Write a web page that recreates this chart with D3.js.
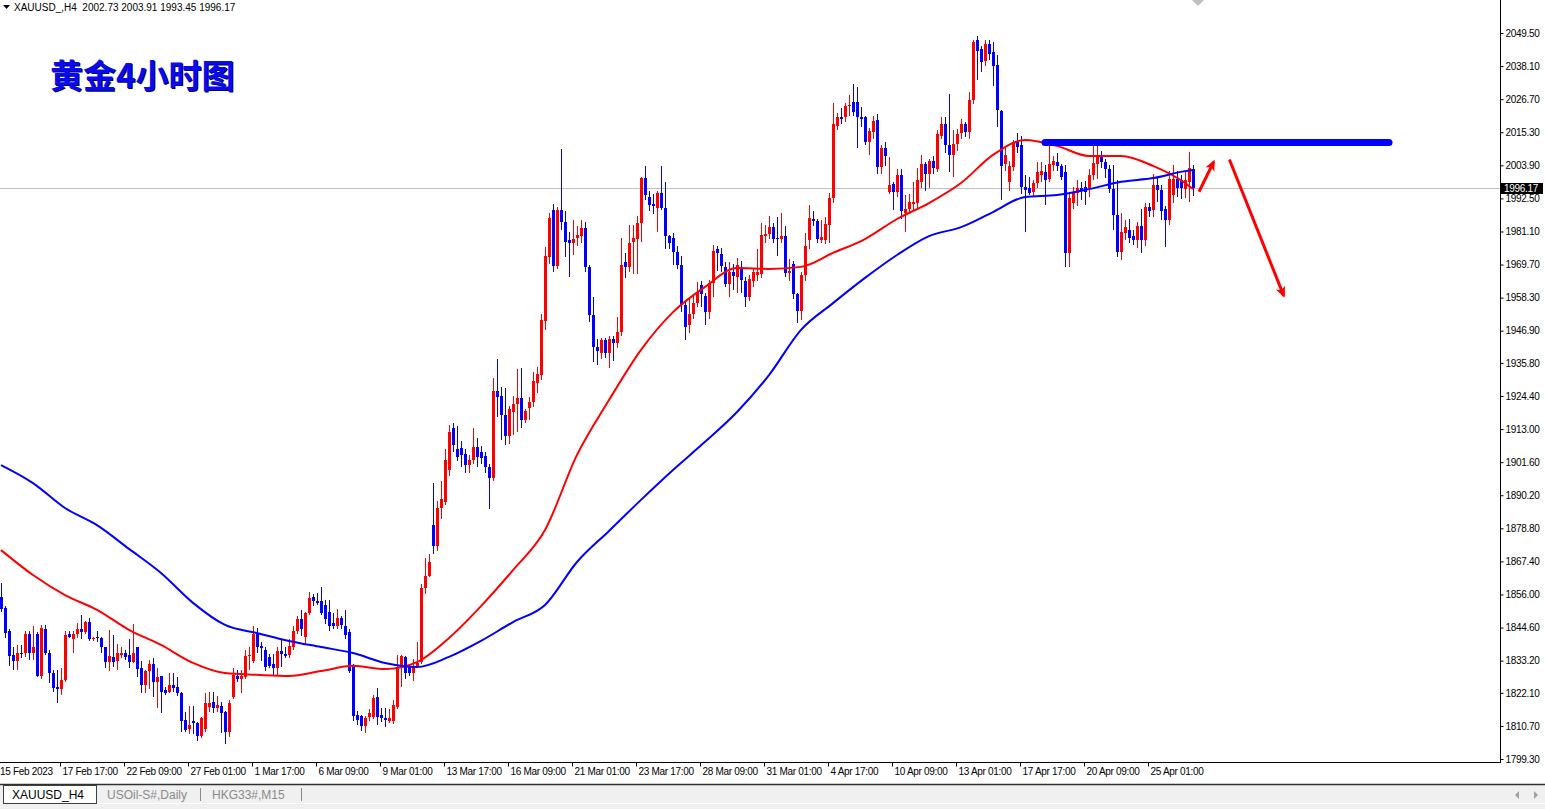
<!DOCTYPE html>
<html>
<head>
<meta charset="utf-8">
<script src="https://cdn.jsdelivr.net/npm/d3@7"></script>
<style>
html, body { margin: 0; padding: 0; background: #fff; overflow: hidden; }
svg { display: block; }
.font { font-family: "Liberation Sans", Arial, sans-serif; }
.axis text { font-size: 10px; fill: #000; letter-spacing: -0.3px; }
.axis line { stroke: #000; }
.axis path { display: none; }
</style>
</head>
<body>
<svg id="chart" width="1545" height="809"></svg>
<script>
const SVG_WIDTH = 1545;
const SVG_HEIGHT = 809;
const PLOT_RIGHT = 1500;
const PLOT_BOTTOM = 762;
const BAR_STEP = 4;
const BULL_COLOR = "#ff0000";
const BEAR_COLOR = "#0000ff";

const SYMBOL_TXT = "XAUUSD_,H4  2002.73 2003.91 1993.45 1996.17";
const TITLE_TXT = "黄金4小时图";
const TAB_LIST = ["XAUUSD_H4", "USOil-S#,Daily", "HKG33#,M15"];

// H4 bars, oldest first: [open, high, low, close]
const candles = [
    [1855, 1860, 1850, 1851], [1851.5, 1852, 1841, 1842.8], [1843.3, 1844, 1831.4, 1834.7], [1835, 1838, 1830, 1833],
    [1833, 1838.5, 1830, 1836], [1836, 1838.5, 1834, 1835.5], [1836, 1843.5, 1834.5, 1842.5], [1842.5, 1843.5, 1833.5, 1836],
    [1836, 1845, 1833.5, 1838], [1842.5, 1843, 1827.5, 1828], [1828, 1845.5, 1827, 1844.3], [1844, 1845.5, 1835, 1835.8],
    [1836, 1837, 1825.5, 1829], [1829, 1830, 1822.3, 1823.7], [1824, 1830, 1818.5, 1823.5], [1823.5, 1830.5, 1821.5, 1826.5],
    [1826.5, 1843.5, 1826, 1842.2], [1842.5, 1843.5, 1841, 1841.5], [1840.5, 1843.5, 1836, 1842.5], [1842.5, 1846, 1841, 1844],
    [1844, 1849, 1840.5, 1843.2], [1843, 1847, 1842.5, 1846.5], [1846.5, 1848, 1840, 1840.5], [1840.5, 1841.5, 1840, 1841],
    [1841.5, 1843.5, 1839.5, 1841], [1841, 1841.5, 1836, 1837.8], [1838, 1838, 1830.5, 1832.7], [1832.7, 1843.8, 1829.6, 1834.8],
    [1834.5, 1842, 1831, 1832.7], [1833, 1839, 1830, 1835.8], [1835.3, 1838, 1834, 1836], [1836, 1837, 1833.5, 1834.5],
    [1835, 1840.5, 1830.5, 1832.7], [1832.7, 1845.8, 1832.5, 1835.8], [1837.8, 1838, 1827.5, 1830.3], [1830.5, 1833, 1822, 1824.8],
    [1824.8, 1830, 1822, 1829.6], [1829.6, 1833.5, 1823.3, 1832], [1832, 1834, 1820.5, 1826], [1826, 1830.5, 1817, 1827.7],
    [1828, 1828, 1815.2, 1822.3], [1823, 1824, 1821.5, 1822], [1822.3, 1829, 1822, 1824.8], [1824.8, 1829, 1822.3, 1823.8],
    [1824, 1827.5, 1821, 1822], [1822, 1822.5, 1808.7, 1812.4], [1812.7, 1815.5, 1808.7, 1809.3], [1809.5, 1817.5, 1808, 1811],
    [1812.4, 1817.5, 1808, 1811.7], [1811.7, 1812, 1805.5, 1807.3], [1807.3, 1813.7, 1806.5, 1813.4], [1809.8, 1822, 1808.5, 1818.6],
    [1817.2, 1822.4, 1815.5, 1818.6], [1819, 1822.5, 1815, 1817], [1817, 1821, 1815.5, 1818], [1817.5, 1819, 1808.3, 1815.2],
    [1815.5, 1816, 1804.5, 1808.5], [1808.5, 1819.5, 1807, 1818.6], [1820.5, 1830.5, 1820, 1828.2], [1828, 1830, 1826, 1827],
    [1827, 1830, 1822, 1828], [1827.5, 1836.8, 1827, 1834.8], [1834.7, 1838, 1830, 1835], [1833, 1845, 1832.5, 1842.5],
    [1842.5, 1844.3, 1836, 1837.8], [1838.3, 1839.5, 1833, 1837.5], [1836.8, 1838, 1829.5, 1831], [1834.5, 1835.5, 1830.5, 1831.5],
    [1832, 1835.5, 1828, 1830.5], [1830.7, 1838, 1828, 1836.5], [1836.5, 1840.5, 1831, 1835.5], [1835.5, 1838, 1834, 1834.8],
    [1835.3, 1840.5, 1834, 1838.3], [1838, 1845, 1837, 1843.3], [1843.5, 1848.5, 1842.5, 1847.4], [1847.5, 1850.5, 1841.7, 1844],
    [1841.5, 1850, 1838.9, 1849.7], [1849.7, 1856.8, 1849, 1854.8], [1855, 1856, 1852, 1853.8], [1853.8, 1856.5, 1852.5, 1853],
    [1853.6, 1858.5, 1849, 1849.7], [1852.5, 1854, 1845.8, 1847.4], [1850, 1854, 1843.5, 1845.3], [1846.3, 1849.5, 1844, 1845.3],
    [1845.3, 1851, 1844, 1848], [1848, 1848.5, 1844, 1845.5], [1845.3, 1850.5, 1840.5, 1841.9], [1843, 1844, 1828.8, 1829.6],
    [1831.4, 1832, 1812.4, 1814.1], [1814.4, 1815.8, 1811, 1812.7], [1814, 1814.5, 1809, 1810.7], [1810.7, 1814.2, 1808.3, 1813.6],
    [1813.8, 1816.5, 1812.5, 1815], [1813.8, 1821.5, 1813, 1820.3], [1820.8, 1823.7, 1811, 1813.8], [1814.5, 1817, 1812, 1813.4],
    [1813.6, 1817, 1810.3, 1812.7], [1812.4, 1816.4, 1811.7, 1813.6], [1812.4, 1819.8, 1811.5, 1817.9], [1817.2, 1835, 1816.5, 1831],
    [1831.4, 1835.3, 1824, 1834.8], [1834.5, 1834.7, 1827, 1829], [1831.2, 1832, 1827.8, 1829], [1829, 1833.8, 1826.3, 1831.2],
    [1831, 1839.5, 1830.5, 1832.4], [1832.7, 1859.5, 1832, 1858.1], [1858.1, 1868.4, 1856, 1862.5], [1862.5, 1869.8, 1862, 1867.1],
    [1879.8, 1894.4, 1870, 1872.6], [1872.6, 1888.2, 1871, 1885.8], [1885.8, 1895, 1882, 1889], [1888, 1906, 1887, 1902.5],
    [1899, 1914.5, 1897, 1912], [1913.3, 1915, 1905, 1907.5], [1906, 1914, 1902, 1903.5], [1906.5, 1909, 1900, 1904],
    [1904.5, 1906, 1898, 1900.5], [1900.5, 1904, 1898, 1902.5], [1902.5, 1913.5, 1901, 1906.8], [1906.8, 1910, 1900, 1903.5],
    [1905, 1907, 1901, 1903], [1903.7, 1905, 1898, 1900], [1900, 1901, 1885.5, 1896.2], [1896.1, 1930.6, 1895, 1926],
    [1926, 1937.2, 1917.2, 1924], [1924.4, 1927.5, 1909.2, 1917.9], [1917.9, 1927, 1907.5, 1910.6], [1910.6, 1921, 1908, 1919.9],
    [1919, 1924.5, 1911, 1921.5], [1921.7, 1933.7, 1912, 1923.7], [1923.7, 1934, 1913.4, 1916.2], [1916.2, 1920, 1915, 1919.2],
    [1920.2, 1924, 1916, 1922.2], [1922.3, 1932.7, 1920.5, 1929.6], [1928.8, 1934.5, 1925.6, 1932], [1931.6, 1952.6, 1930, 1950.6],
    [1950.4, 1975.7, 1947, 1972.5], [1972.3, 1987.4, 1970, 1985.7], [1988.5, 1990.6, 1967, 1969.2], [1969.2, 1989.5, 1968, 1988.5],
    [1988.5, 2009.5, 1981.6, 1984.3], [1984.3, 1988, 1972.3, 1977.5], [1978.1, 1980.9, 1965.5, 1977.1], [1977.1, 1985, 1973, 1978.4],
    [1978.8, 1983, 1976, 1980], [1979.5, 1985, 1977, 1982.3], [1982.3, 1984.5, 1967, 1968.8], [1968.8, 1969.5, 1950, 1952.3],
    [1952.3, 1958.5, 1936.1, 1941.3], [1941.3, 1944, 1935, 1939.9], [1939.2, 1944.5, 1937, 1943.7], [1943.7, 1944.5, 1937.5, 1939.2],
    [1939.2, 1945, 1934, 1943.9], [1944, 1945, 1936.5, 1942.6], [1942.6, 1951.6, 1941, 1946.4], [1946.4, 1978.9, 1945, 1969.5],
    [1970.5, 1973.7, 1965, 1968.8], [1968.8, 1983.5, 1967, 1977.1], [1977.5, 1983.5, 1966.4, 1978.7], [1978.4, 1986.5, 1966.5, 1984],
    [1984, 2000, 1977.4, 1999.5], [1999.5, 2003.8, 1992, 1993.7], [1993, 1995, 1988, 1990.1], [1990.5, 1994, 1987, 1990],
    [1989.3, 1995, 1981, 1994.2], [1994.2, 2003.5, 1988.5, 1989.3], [1989.3, 1998.1, 1975.1, 1979.4], [1979.4, 1980, 1975, 1977.1],
    [1978.8, 1980.5, 1969.5, 1974], [1974, 1976, 1968, 1969.5], [1969.7, 1972.5, 1953.5, 1955.6], [1955.6, 1957, 1943.7, 1948.3],
    [1949, 1958.5, 1946, 1952.6], [1952.6, 1959, 1951, 1956.3], [1956.3, 1963.7, 1955, 1960.4], [1962.6, 1964, 1955, 1959.7],
    [1959, 1960, 1948.9, 1953.3], [1953.3, 1964.5, 1951, 1963.3], [1963.3, 1976.5, 1958.5, 1974.3], [1975.1, 1976, 1967.5, 1973.7],
    [1973.3, 1975.5, 1967, 1969.2], [1968.8, 1970.5, 1962, 1963], [1963, 1970.5, 1958.5, 1967.1], [1967.1, 1970, 1961, 1965.8],
    [1965.3, 1972, 1960, 1969.5], [1968.8, 1971, 1960, 1964.3], [1964, 1965.5, 1955, 1958.6], [1958.6, 1966, 1957, 1964.7],
    [1964, 1968.5, 1962, 1967.1], [1966, 1975, 1964, 1967.2], [1966.4, 1983.9, 1965, 1979.8], [1979.5, 1983.5, 1977, 1980.2],
    [1980.2, 1986.5, 1978.5, 1982.6], [1982.6, 1984, 1977, 1978.4], [1979, 1986, 1972.6, 1978.4], [1978.4, 1987.5, 1977, 1979.5],
    [1979.5, 1983, 1965.5, 1966.8], [1966.8, 1971.5, 1964, 1967.5], [1970, 1971, 1958, 1959.7], [1959.7, 1960, 1949.5, 1953.6],
    [1953.6, 1967, 1950.5, 1966.1], [1966.1, 1980.5, 1964, 1976.1], [1978, 1990.3, 1975, 1985.6], [1985.3, 1988, 1983, 1984.6],
    [1984.6, 1985.5, 1977, 1978.4], [1978.3, 1985, 1977, 1979.2], [1978.3, 1986, 1976.8, 1983.6], [1983.2, 1994.5, 1977, 1992.6],
    [1992.6, 2025.4, 1991, 2018.1], [2017.5, 2022, 2016, 2020.4], [2020.4, 2023.6, 2018, 2020], [2020.4, 2025.5, 2019, 2024.3],
    [2024.3, 2028.1, 2021, 2024.7], [2025.7, 2031.9, 2021, 2022.3], [2025.7, 2030.9, 2009.8, 2020.5], [2020.4, 2024, 2017, 2019.9],
    [2020.5, 2021, 2011, 2012], [2012, 2016.7, 2007.6, 2015.7], [2015.5, 2021, 2013, 2019.2], [2019.5, 2021.7, 2000.9, 2003.2],
    [2003.2, 2010.8, 2001, 2009.8], [2009.8, 2012, 2003.7, 2007], [1994.7, 2006.6, 1994, 1997.1], [1997.6, 1998, 1988.5, 1994.6],
    [1994.6, 2002.7, 1993, 2000.7], [2000.7, 2002.5, 1985.5, 1988.2], [1987.5, 1993.5, 1981, 1988.9], [1989, 1994, 1987, 1991.4],
    [1990.7, 1998, 1988, 1991.3], [1991, 2003, 1989, 1998.8], [1998.1, 2007.3, 1996, 2004.4], [2004.4, 2005, 1995, 2001],
    [2001, 2006, 1996, 2005.5], [2005.5, 2007, 2001, 2003], [2002.5, 2016, 2001.5, 2014.7], [2014, 2020.5, 2013, 2018.3],
    [2018.3, 2020.5, 2008.2, 2011], [2011, 2028.5, 2001.5, 2007.6], [2007.6, 2016, 2000, 2011.3], [2011.3, 2016.5, 2009, 2014.7],
    [2015, 2020, 2013, 2018], [2018, 2019, 2013.5, 2015.5], [2015.5, 2029.2, 2013, 2026.4], [2026.4, 2047, 2025, 2046.4],
    [2047, 2048.5, 2033.3, 2043.3], [2044, 2045, 2036.1, 2039.5], [2039.8, 2047, 2038, 2045.6], [2045.6, 2047.1, 2040.2, 2042.3],
    [2043, 2046.5, 2031.2, 2038.2], [2038.5, 2041.9, 2017.1, 2023], [2022.7, 2023, 1992, 2003.5], [2004.3, 2010, 2002, 2007.5],
    [1998.2, 2005.5, 1995, 2003.5], [2003.2, 2012.5, 2002, 2011.9], [2011.9, 2015, 2008, 2010.2], [2011, 2014, 1994, 1996.5],
    [1996.5, 2000.5, 1980.9, 1995.5], [1996.2, 2000, 1993.5, 1994.4], [1994.8, 1999, 1993, 1997.9], [1997.9, 2005, 1996, 2001.5],
    [2000.7, 2005.2, 1998, 2002.1], [2001.5, 2004, 1990.3, 1999], [1999.3, 2011.1, 1998, 2004.4], [2004, 2007, 2002, 2005.4],
    [2005.2, 2008.3, 2002, 2003.5], [2003.5, 2004.5, 1999, 2000], [2001.5, 2004, 1969, 1973.7], [1973.7, 1994, 1968.8, 1992.6],
    [1991, 1996.5, 1989, 1994.5], [1994.4, 1999, 1990, 1996.2], [1996.2, 1998, 1992, 1995.2], [1996.5, 1998.5, 1990.3, 1994.6],
    [1996.2, 2002.5, 1993, 2000.4], [2000.4, 2011.1, 1999, 2004.8], [2004.2, 2011, 1999.2, 2007.6], [2007.6, 2009, 2003, 2005.2],
    [2005.2, 2006, 1999.5, 2002.5], [2002.5, 2004, 1994.5, 1995.6], [1995.6, 2004, 1981.6, 1986.9], [1986.9, 1999, 1972.3, 1973.9],
    [1973.9, 1987.5, 1971.2, 1981], [1980.5, 1985, 1978, 1982.6], [1981.5, 1985.4, 1977, 1979], [1979.5, 1981.5, 1976.4, 1978.1],
    [1978.1, 1984.5, 1975.5, 1983], [1983, 1989, 1973.7, 1978.1], [1978.1, 1991, 1976, 1989.6], [1989.6, 1991, 1986, 1988.2],
    [1988.5, 2000.9, 1986, 1997.2], [1997.2, 2000, 1991.2, 1995.5], [1995.5, 1997, 1985, 1988], [1988.8, 1990, 1975.8, 1985],
    [1985, 2002, 1983.3, 1999.2], [1993.5, 2003.9, 1991, 1999.2], [1999.2, 2002, 1993, 1996.2], [1998.8, 2000.5, 1992.2, 1996.2],
    [1995.6, 2001.5, 1992.5, 1998.8], [1998.2, 2008.5, 1991.2, 2003], [2002.73, 2003.91, 1993.45, 1996.17]
];

const PRICE_TICKS = [2049.50, 2038.10, 2026.70, 2015.30, 2003.90, 1992.50, 1981.10, 1969.70, 1958.30, 1946.90,
    1935.80, 1924.40, 1913.00, 1901.60, 1890.20, 1878.80, 1867.40, 1856.00, 1844.60, 1833.20, 1822.10, 1810.70, 1799.30];
const LAST_PRICE = 1996.17;

const DATE_FIRST_LABEL = "15 Feb 2023";
const DATE_TICK_BARS = [15, 31, 47, 63, 79, 95, 111, 127, 143, 159, 175, 191, 207, 223, 239, 255, 271, 287];
const DATE_LABELS = ["17 Feb 17:00", "22 Feb 09:00", "27 Feb 01:00", "1 Mar 17:00", "6 Mar 09:00", "9 Mar 01:00",
    "13 Mar 17:00", "16 Mar 09:00", "21 Mar 01:00", "23 Mar 17:00", "28 Mar 09:00", "31 Mar 01:00", "4 Apr 17:00",
    "10 Apr 09:00", "13 Apr 01:00", "17 Apr 17:00", "20 Apr 09:00", "25 Apr 01:00"];

// moving averages every 8 bars
const MA_BARS = [0, 8, 16, 24, 32, 40, 48, 56, 64, 72, 80, 88, 96, 104, 112, 120, 128, 136, 144, 152,
    160, 168, 176, 184, 192, 200, 208, 216, 224, 232, 240, 248, 256, 264, 272, 280, 288, 296, 298];
const RED_MA = [1871.3, 1862.7, 1855.8, 1850.7, 1843.8, 1838.6, 1832.4, 1828.9, 1828.3, 1827.9,
    1829.6, 1831.4, 1830.3, 1832.7, 1841.0, 1852.0, 1864.4, 1878.2, 1904.1, 1923.0,
    1940.3, 1953.3, 1962.0, 1968.5, 1968.2, 1968.9, 1973.7, 1978.5, 1985.4, 1990.9,
    1997.8, 2007.5, 2012.6, 2010.6, 2007.1, 2007.1, 2003.7, 1997.8, 1995.7];
const BLUE_MA = [1900.6, 1894.4, 1885.8, 1879.9, 1871.7, 1863.4, 1853.1, 1845.5, 1842.7, 1840.0,
    1837.9, 1835.8, 1832.4, 1831.0, 1834.5, 1840.0, 1846.5, 1852.4, 1867.2, 1877.9,
    1888.6, 1898.9, 1908.6, 1918.9, 1931.6, 1947.2, 1956.4, 1965.1, 1973.0, 1979.5,
    1982.6, 1987.8, 1993.0, 1993.7, 1995.7, 1998.2, 1999.5, 2001.9, 2002.3];

const LEVEL_PRICE = 2011.8;
const LEVEL_BARS = [261, 347];
const ARROWS = [
    {from: [299.5, 1994.8], to: [303.2, 2005.2]},
    {from: [307.1, 2005.9], to: [320.7, 1958.9]}
];

var svg = d3.select("#chart");

var xScale = d3.scaleLinear()
    .domain([0, candles.length - 1])
    .range([1, 1 + BAR_STEP * (candles.length - 1)]);
var yScale = d3.scaleLinear()
    .domain([1799.3, 2049.5])
    .range([759, 33]);

svg.append("rect")
    .attr("width", SVG_WIDTH)
    .attr("height", SVG_HEIGHT)
    .attr("fill", "#ffffff");

// last price line behind the bars
svg.append("line")
    .attr("x1", 0).attr("x2", PLOT_RIGHT)
    .attr("y1", Math.round(yScale(LAST_PRICE)) + 0.5)
    .attr("y2", Math.round(yScale(LAST_PRICE)) + 0.5)
    .attr("stroke", "#c0c0c0")
    .attr("stroke-width", 1);

var barGroup = svg.append("g")
    .attr("shape-rendering", "crispEdges");
var bars = barGroup.selectAll("g.bar")
    .data(candles)
    .enter()
    .append("g")
    .classed("bar", true);
bars.append("line")
    .attr("x1", function(d, i) { return Math.round(xScale(i)) + 0.5; })
    .attr("x2", function(d, i) { return Math.round(xScale(i)) + 0.5; })
    .attr("y1", function(d) { return yScale(d[1]); })
    .attr("y2", function(d) { return yScale(d[2]); })
    .attr("stroke", function(d) { return d[3] >= d[0] ? BULL_COLOR : BEAR_COLOR; })
    .attr("stroke-width", 1);
bars.append("rect")
    .attr("x", function(d, i) { return Math.round(xScale(i)) - 1; })
    .attr("width", 3)
    .attr("y", function(d) { return yScale(Math.max(d[0], d[3])); })
    .attr("height", function(d) {
        return Math.max(1, Math.abs(yScale(d[0]) - yScale(d[3])));
    })
    .attr("fill", function(d) { return d[3] >= d[0] ? BULL_COLOR : BEAR_COLOR; });

var maLine = d3.line()
    .x(function(d) { return xScale(d[0]); })
    .y(function(d) { return yScale(d[1]); })
    .curve(d3.curveMonotoneX);
svg.append("path")
    .datum(MA_BARS.map(function(b, i) { return [b, RED_MA[i]]; }))
    .attr("d", maLine)
    .attr("fill", "none")
    .attr("stroke", "#ff0000")
    .attr("stroke-width", 2);
svg.append("path")
    .datum(MA_BARS.map(function(b, i) { return [b, BLUE_MA[i]]; }))
    .attr("d", maLine)
    .attr("fill", "none")
    .attr("stroke", "#0000ff")
    .attr("stroke-width", 2);

// resistance line and arrows
svg.append("line")
    .attr("x1", xScale(LEVEL_BARS[0])).attr("x2", xScale(LEVEL_BARS[1]))
    .attr("y1", yScale(LEVEL_PRICE)).attr("y2", yScale(LEVEL_PRICE))
    .attr("stroke", "#0000ff")
    .attr("stroke-width", 7)
    .attr("stroke-linecap", "round");

svg.append("defs").append("marker")
    .attr("id", "arrowHead")
    .attr("markerUnits", "userSpaceOnUse")
    .attr("markerWidth", 12).attr("markerHeight", 12)
    .attr("refX", 9).attr("refY", 6)
    .attr("orient", "auto")
    .append("path")
    .attr("d", "M0,1 L11,6 L0,11 L3,6 Z")
    .attr("fill", "#ff0000");
svg.selectAll("line.arrow")
    .data(ARROWS)
    .enter()
    .append("line")
    .classed("arrow", true)
    .attr("x1", function(d) { return xScale(d.from[0]); })
    .attr("y1", function(d) { return yScale(d.from[1]); })
    .attr("x2", function(d) { return xScale(d.to[0]); })
    .attr("y2", function(d) { return yScale(d.to[1]); })
    .attr("stroke", "#ff0000")
    .attr("stroke-width", 3)
    .attr("marker-end", "url(#arrowHead)");

// chart shift marker
svg.append("path")
    .attr("d", "M1192,0 L1204,0 L1198,6 Z")
    .attr("fill", "#c0c0c0");

// frame
svg.append("line")
    .attr("x1", PLOT_RIGHT + 0.5).attr("x2", PLOT_RIGHT + 0.5)
    .attr("y1", 0).attr("y2", PLOT_BOTTOM + 1)
    .attr("stroke", "#000");
svg.append("line")
    .attr("x1", 0).attr("x2", PLOT_RIGHT + 1)
    .attr("y1", PLOT_BOTTOM + 0.5).attr("y2", PLOT_BOTTOM + 0.5)
    .attr("stroke", "#000");

var yAxis = d3.axisRight(yScale)
    .tickValues(PRICE_TICKS)
    .tickFormat(d3.format(".2f"))
    .tickSize(3)
    .tickPadding(2);
svg.append("g")
    .classed("axis font", true)
    .attr("transform", "translate(" + (PLOT_RIGHT + 0.5) + ",0)")
    .call(yAxis);

var lastY = Math.round(yScale(LAST_PRICE));
svg.append("rect")
    .attr("x", PLOT_RIGHT + 1).attr("y", lastY - 5)
    .attr("width", 42).attr("height", 11)
    .attr("fill", "#000");
svg.append("text")
    .attr("x", PLOT_RIGHT + 4).attr("y", lastY + 0.5)
    .attr("dominant-baseline", "central")
    .attr("fill", "#fff")
    .style("font-size", "10px")
    .style("letter-spacing", "-0.3px")
    .classed("font", true)
    .text(d3.format(".2f")(LAST_PRICE));

var xAxis = d3.axisBottom(xScale)
    .tickValues(DATE_TICK_BARS)
    .tickFormat(function(d, i) { return DATE_LABELS[i]; })
    .tickSize(4);
var xAxisGroup = svg.append("g")
    .classed("axis font", true)
    .attr("transform", "translate(-1," + (PLOT_BOTTOM + 0.5) + ")")
    .call(xAxis);
xAxisGroup.selectAll("text")
    .attr("text-anchor", "start")
    .attr("x", 2)
    .attr("y", 5);
svg.append("text")
    .classed("font", true)
    .attr("x", 0).attr("y", PLOT_BOTTOM + 5.5)
    .attr("dy", "0.71em")
    .style("font-size", "10px")
    .style("letter-spacing", "-0.3px")
    .text(DATE_FIRST_LABEL);

// symbol line and title
svg.append("path")
    .attr("d", "M3,5 L10,5 L6.5,9 Z")
    .attr("fill", "#000");
svg.append("text")
    .classed("font", true)
    .attr("x", 14).attr("y", 11)
    .style("font-size", "10px")
    .style("white-space", "pre")
    .attr("xml:space", "preserve")
    .text(SYMBOL_TXT);

svg.append("text")
    .attr("x", 51).attr("y", 89)
    .style("font-family", "'Noto Sans CJK SC', sans-serif")
    .style("font-weight", "bold")
    .style("font-size", "33px")
    .attr("fill", "#000060")
    .text(TITLE_TXT);
svg.append("text")
    .attr("x", 50).attr("y", 88)
    .style("font-family", "'Noto Sans CJK SC', sans-serif")
    .style("font-weight", "bold")
    .style("font-size", "33px")
    .attr("fill", "#0a0aee")
    .text(TITLE_TXT);

// terminal tabs
var tabBar = svg.append("g");
tabBar.append("rect")
    .attr("x", 0).attr("y", 784)
    .attr("width", SVG_WIDTH).attr("height", SVG_HEIGHT - 784)
    .attr("fill", "#f0f0f0");
tabBar.append("line")
    .attr("x1", 0).attr("x2", SVG_WIDTH)
    .attr("y1", 784.5).attr("y2", 784.5)
    .attr("stroke", "#303030").attr("stroke-width", 1.5);
tabBar.append("line")
    .attr("x1", 0).attr("x2", SVG_WIDTH)
    .attr("y1", 803.5).attr("y2", 803.5)
    .attr("stroke", "#ffffff");
tabBar.append("rect")
    .attr("x", 3.5).attr("y", 785.5)
    .attr("width", 93).attr("height", 18)
    .attr("fill", "#ffffff")
    .attr("stroke", "#404040");
var tabX = [12, 107, 212];
tabBar.selectAll("text.tab")
    .data(TAB_LIST)
    .enter()
    .append("text")
    .classed("tab font", true)
    .attr("x", function(d, i) { return tabX[i]; })
    .attr("y", 799)
    .style("font-size", "12px")
    .attr("fill", function(d, i) { return i === 0 ? "#000" : "#8a8a8a"; })
    .text(function(d) { return d; });
[200, 301].forEach(function(x) {
    tabBar.append("line")
        .attr("x1", x + 0.5).attr("x2", x + 0.5)
        .attr("y1", 788).attr("y2", 801)
        .attr("stroke", "#8a8a8a");
});
tabBar.append("path")
    .attr("d", "M1519,791 L1519,799 L1515,795 Z M1534,791 L1534,799 L1538,795 Z")
    .attr("fill", "#a0a0a0");
</script>
</body>
</html>
